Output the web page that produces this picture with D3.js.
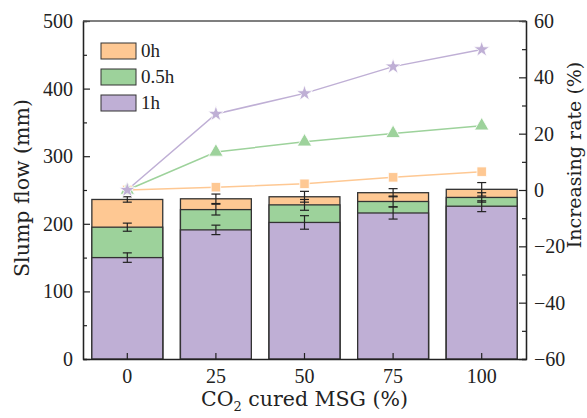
<!DOCTYPE html>
<html>
<head>
<meta charset="utf-8">
<script src="https://cdn.jsdelivr.net/npm/d3@7"></script>
<style>
  body { margin: 0; background: #fff; }
  text { font-family: "Liberation Serif", "DejaVu Serif", serif; fill: #222; }
</style>
</head>
<body>
<div id="chart"></div>
<script>
const categories = ['0', '25', '50', '75', '100'];
const flow0h = [236, 237, 240, 246, 251];
const flow05h = [195, 221, 228, 233, 239];
const flow1h = [150, 191, 202, 216, 226];
const err0h = [4, 7, 8, 6, 10];
const err05h = [6, 8, 8, 8, 7];
const err1h = [7, 7, 10, 9, 8];
const rate0h = [0, 1.0, 2.2, 4.5, 6.5];
const rate05h = [0, 13.5, 17.1, 20.1, 22.8];
const rate1h = [0, 27.0, 34.3, 43.8, 49.9];
const leftTicks = [0, 100, 200, 300, 400, 500];
const rightTicks = [-60, -40, -20, 0, 20, 40, 60];

const width = 587, height = 418;
const margin = { top: 21, right: 61, bottom: 59, left: 83 };
const chartWidth = width - margin.left - margin.right;
const chartHeight = height - margin.top - margin.bottom;

const colors = { h0: '#fec893', h05: '#9dd29b', h1: '#bfafd5' };
const titleFont = '"DejaVu Serif", serif';

const svg = d3.select('#chart')
  .append('svg')
  .attr('width', width)
  .attr('height', height)
  .append('g')
  .attr('transform', `translate(${margin.left},${margin.top})`);

const xScale = d3.scaleBand()
  .domain(categories)
  .range([0, chartWidth])
  .paddingInner(0.2)
  .paddingOuter(0.1);

const yScale = d3.scaleLinear().domain([0, 500]).range([chartHeight, 0]);
const y2Scale = d3.scaleLinear().domain([-60, 60]).range([chartHeight, 0]);

// overlaid bars, tallest first
const barSeries = [
  { vals: flow0h, errs: err0h, color: colors.h0 },
  { vals: flow05h, errs: err05h, color: colors.h05 },
  { vals: flow1h, errs: err1h, color: colors.h1 }
];

barSeries.forEach(s => {
  svg.append('g').selectAll('rect')
    .data(categories)
    .enter()
    .append('rect')
    .attr('x', d => xScale(d))
    .attr('width', xScale.bandwidth())
    .attr('y', (d, i) => yScale(s.vals[i]))
    .attr('height', (d, i) => chartHeight - yScale(s.vals[i]))
    .attr('fill', s.color)
    .attr('stroke', '#333')
    .attr('stroke-width', 1.3);
});

// error bars
barSeries.forEach(s => {
  const g = svg.append('g').attr('stroke', '#222').attr('stroke-width', 1.2);
  categories.forEach((c, i) => {
    const cx = xScale(c) + xScale.bandwidth() / 2;
    const y1 = yScale(s.vals[i] + s.errs[i]);
    const y0 = yScale(s.vals[i] - s.errs[i]);
    g.append('line').attr('x1', cx).attr('x2', cx).attr('y1', y1).attr('y2', y0);
    g.append('line').attr('x1', cx - 4.5).attr('x2', cx + 4.5).attr('y1', y1).attr('y2', y1);
    g.append('line').attr('x1', cx - 4.5).attr('x2', cx + 4.5).attr('y1', y0).attr('y2', y0);
  });
});

// rate lines
const cx = d => xScale(d) + xScale.bandwidth() / 2;
const lineSeries = [
  { vals: rate0h, color: colors.h0, symbol: d3.symbolSquare, size: 90 },
  { vals: rate05h, color: colors.h05, symbol: d3.symbolTriangle, size: 90 },
  { vals: rate1h, color: colors.h1, symbol: d3.symbolStar, size: 80 }
];

lineSeries.forEach(s => {
  const line = d3.line()
    .x((d, i) => cx(categories[i]))
    .y(d => y2Scale(d));
  svg.append('path')
    .datum(s.vals)
    .attr('d', line)
    .attr('fill', 'none')
    .attr('stroke', s.color)
    .attr('stroke-width', 1.5);
});

lineSeries.forEach(s => {
  svg.append('g').selectAll('path')
    .data(s.vals)
    .enter()
    .append('path')
    .attr('d', d3.symbol().type(s.symbol).size(s.size))
    .attr('transform', (d, i) => `translate(${cx(categories[i])},${y2Scale(d)})`)
    .attr('fill', s.color)
    .attr('stroke', '#fff')
    .attr('stroke-width', 0.8);
});

// axes
const fontSize = '20px';

const xAxis = svg.append('g')
  .attr('transform', `translate(0,${chartHeight})`)
  .call(d3.axisBottom(xScale).tickSizeInner(-6).tickSizeOuter(0).tickPadding(10));

const yAxis = svg.append('g')
  .call(d3.axisLeft(yScale).tickValues(leftTicks).tickSizeInner(-7).tickSizeOuter(0).tickPadding(10));

svg.append('g')
  .call(d3.axisLeft(yScale).tickValues([50, 150, 250, 350, 450]).tickSize(-4).tickFormat(''));

const y2Axis = svg.append('g')
  .attr('transform', `translate(${chartWidth},0)`)
  .call(d3.axisRight(y2Scale).tickValues(rightTicks).tickSizeInner(-7).tickSizeOuter(0).tickPadding(8));

svg.append('g')
  .attr('transform', `translate(${chartWidth},0)`)
  .call(d3.axisRight(y2Scale).tickValues([-50, -30, -10, 10, 30, 50]).tickSize(-4).tickFormat(''));

[xAxis, yAxis, y2Axis].forEach(a => {
  a.selectAll('text').style('font-size', fontSize).style('font-family', '"Liberation Serif", serif').attr('fill', '#222');
});
svg.selectAll('.domain').attr('stroke', '#222').attr('stroke-width', 1.3);
svg.selectAll('.tick line').attr('stroke', '#222').attr('stroke-width', 1.2);

// top border
svg.append('line')
  .attr('x1', 0).attr('x2', chartWidth)
  .attr('y1', 0).attr('y2', 0)
  .attr('stroke', '#555')
  .attr('stroke-width', 1.3);

// axis titles
const xTitle = svg.append('text')
  .attr('x', chartWidth / 2)
  .attr('y', chartHeight + 47)
  .attr('text-anchor', 'middle')
  .style('font-family', titleFont)
  .style('font-size', '20.5px');
xTitle.append('tspan').text('CO');
xTitle.append('tspan').text('2').style('font-size', '13px').attr('dy', 5);
xTitle.append('tspan').text(' cured MSG (%)').attr('dy', -5);

svg.append('text')
  .attr('transform', 'rotate(-90)')
  .attr('x', -chartHeight / 2 + 2)
  .attr('y', -margin.left + 29)
  .attr('text-anchor', 'middle')
  .style('font-family', titleFont)
  .style('font-size', '20.5px')
  .text('Slump flow (mm)');

svg.append('text')
  .attr('transform', 'rotate(-90)')
  .attr('x', -134)
  .attr('y', chartWidth + 55)
  .attr('text-anchor', 'middle')
  .style('font-family', titleFont)
  .style('font-size', '19px')
  .text('Increasing rate (%)');

// legend
const legendItems = [
  { label: '0h', color: colors.h0 },
  { label: '0.5h', color: colors.h05 },
  { label: '1h', color: colors.h1 }
];
const legend = svg.append('g').attr('transform', 'translate(18,22)');
legendItems.forEach((d, i) => {
  legend.append('rect')
    .attr('x', 0)
    .attr('y', i * 26)
    .attr('width', 35)
    .attr('height', 16)
    .attr('fill', d.color)
    .attr('stroke', '#333')
    .attr('stroke-width', 1);
  legend.append('text')
    .attr('x', 40)
    .attr('y', i * 26 + 14)
    .style('font-size', '19px')
    .text(d.label);
});
</script>
</body>
</html>
